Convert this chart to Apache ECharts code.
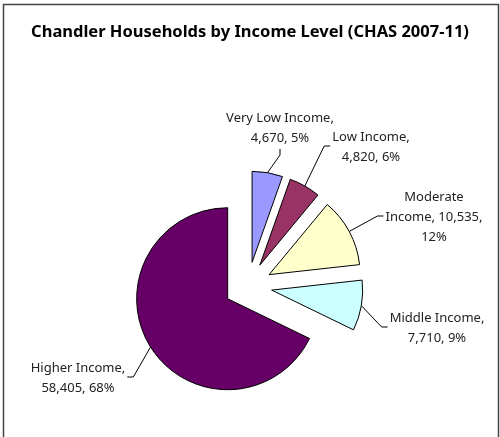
<!DOCTYPE html>
<html>
<head>
<meta charset="utf-8">
<script src="https://cdn.jsdelivr.net/npm/echarts@6/dist/echarts.min.js"></script>
<style>
  html, body { margin: 0; padding: 0; background: #fff; }
  #chart { width: 500px; height: 437px; }
</style>
</head>
<body>
<div id="chart"></div>
<script>
// Households by income level, CHAS 2007-11
const categories = ['Very Low Income', 'Low Income', 'Moderate Income', 'Middle Income', 'Higher Income'];
const households = [4670, 4820, 10535, 7710, 58405];
const sliceColors = ['#9999FF', '#993366', '#FFFFCC', '#CCFFFF', '#660066'];

// Pie geometry
const PIE_CENTER = [248, 286];
const PIE_RADIUS = 91;
const EXPLODE = 24;

// Data label placement: text block centre and which side the leader line meets
const labelCentres = [[280, 128], [371, 147], [434, 217], [437, 328], [78, 378]];
const labelAttach = ['bottom', 'left', 'left', 'left', 'right'];

const LABEL_FONT_SIZE = 13;
const LABEL_FAMILY = 'Noto Sans';
const LINE_H = 20;

const fmt = n => n.toLocaleString('en-US');
const total = households.reduce((a, b) => a + b, 0);

function labelText(name, value) {
  const pct = Math.round(value / total * 100) + '%';
  if (name === 'Moderate Income') {
    return 'Moderate\nIncome, ' + fmt(value) + ',\n' + pct;
  }
  return name + ',\n' + fmt(value) + ', ' + pct;
}

const measureCtx = document.createElement('canvas').getContext('2d');
measureCtx.font = LABEL_FONT_SIZE + 'px "' + LABEL_FAMILY + '"';
const blockWidth = txt => Math.max(...txt.split('\n').map(l => measureCtx.measureText(l).width));

// Chart-area frame, then leader lines and label texts derived from each slice's mid-angle
const graphics = [{
  type: 'rect',
  shape: { x: 3.5, y: 4.5, width: 495, height: 460 },
  style: { fill: 'none', stroke: '#444', lineWidth: 1.5 },
  silent: true
}];

let acc = 0;
households.forEach((v, i) => {
  const a0 = acc / total * 360;
  acc += v;
  const a1 = acc / total * 360;
  const mid = (a0 + a1) / 2 * Math.PI / 180;
  const dx = Math.sin(mid), dy = -Math.cos(mid);
  const ax = PIE_CENTER[0] + dx * (EXPLODE + PIE_RADIUS);
  const ay = PIE_CENTER[1] + dy * (EXPLODE + PIE_RADIUS);

  const txt = labelText(categories[i], v);
  const nLines = txt.split('\n').length;
  const w = blockWidth(txt);
  const [cx, cy] = labelCentres[i];
  let end, elbow;
  if (labelAttach[i] === 'bottom') {
    end = [cx, cy + nLines * LINE_H / 2 + 1];
    elbow = [cx, end[1] + 6];
  } else if (labelAttach[i] === 'left') {
    end = [cx - w / 2 - 2, cy - 1];
    elbow = [end[0] - 6, end[1]];
  } else {
    end = [cx + w / 2 + 2, cy - 1];
    elbow = [end[0] + 6, end[1]];
  }
  graphics.push({
    type: 'polyline',
    shape: { points: [[ax, ay], elbow, end] },
    style: { stroke: '#000', lineWidth: 1, fill: 'none' },
    silent: true,
    z: 10
  });
  graphics.push({
    type: 'text',
    x: cx, y: cy,
    style: {
      text: txt,
      align: 'center',
      verticalAlign: 'middle',
      lineHeight: LINE_H,
      fontSize: LABEL_FONT_SIZE,
      fontFamily: LABEL_FAMILY,
      fill: '#222'
    },
    silent: true,
    z: 10
  });
});

const chart = echarts.init(document.getElementById('chart'), null, { renderer: 'canvas' });

chart.setOption({
  animation: false,
  title: {
    text: 'Chandler Households by Income Level (CHAS 2007-11)',
    left: 'center',
    top: 19,
    textStyle: { fontFamily: 'Noto Sans', fontWeight: 'bold', fontSize: 16.5, color: '#000' }
  },
  graphic: graphics,
  series: [{
    type: 'pie',
    center: PIE_CENTER,
    radius: [0, PIE_RADIUS],
    startAngle: 90,
    clockwise: true,
    selectedMode: 'multiple',
    selectedOffset: EXPLODE,
    emphasis: { disabled: true },
    itemStyle: { borderColor: '#000', borderWidth: 1 },
    label: { show: false },
    labelLine: { show: false },
    data: categories.map((name, i) => ({
      name: name,
      value: households[i],
      selected: true,
      itemStyle: { color: sliceColors[i] }
    }))
  }]
});
</script>
</body>
</html>
